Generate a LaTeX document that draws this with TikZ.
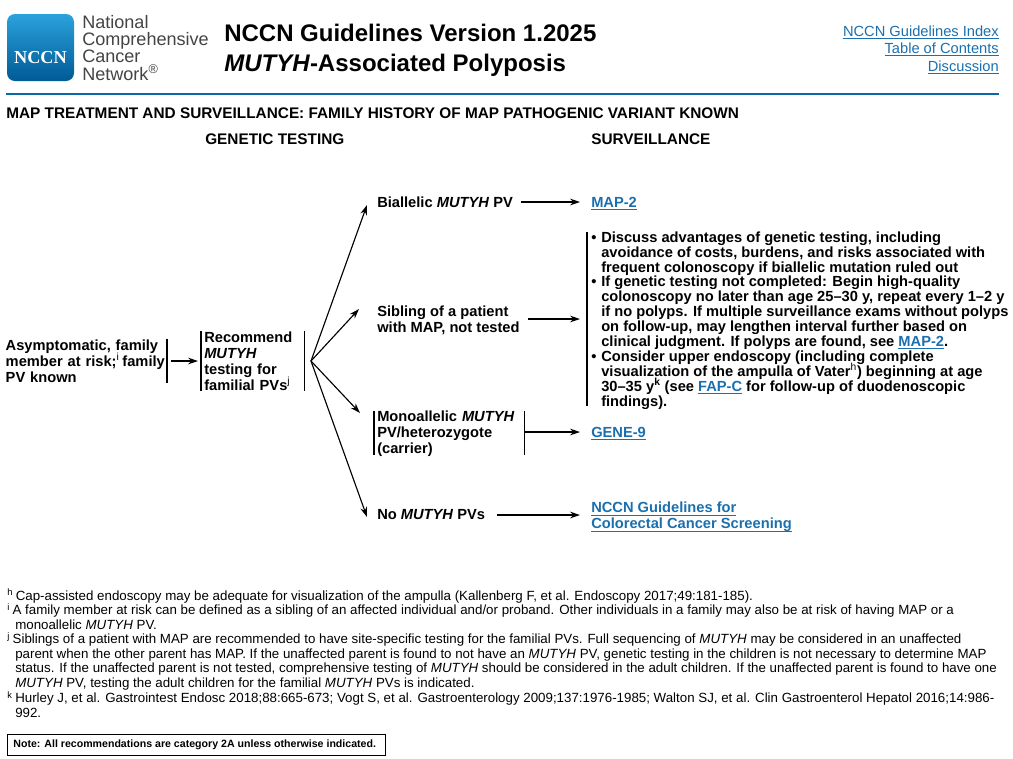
\documentclass[tikz,border=0pt]{standalone}
\usepackage{fontspec}
\setmainfont{Liberation Sans}
\newfontfamily\logoserif{Liberation Serif}
\usetikzlibrary{arrows.meta,positioning}
\lineskiplimit=-20pt

\definecolor{nccnblue}{HTML}{0B68A8}
\definecolor{linkblue}{HTML}{1A6FAE}
\definecolor{logotop}{HTML}{2BA2DC}
\definecolor{logobot}{HTML}{005A96}
\definecolor{logogray}{HTML}{444444}

\newcommand{\lnk}[1]{{\color{linkblue}\underline{\raisebox{0pt}[\height][0pt]{#1}}}}
\newcommand{\bul}{\llap{\textbullet\hspace{3.6pt}}}
\newcommand{\supr}[1]{\textsuperscript{\normalfont #1}}

\tikzset{
	bodytext/.style={font=\bfseries\fontsize{11}{12}\selectfont, inner sep=0pt, align=left},
	headtext/.style={font=\bfseries\fontsize{11.52}{12}\selectfont, inner sep=0pt, anchor=base west},
	listtext/.style={font=\bfseries\fontsize{11}{11.2}\selectfont, inner sep=0pt, align=left, anchor=base west},
	foot/.style={font=\fontsize{9.99}{10.9}\selectfont, inner sep=0pt, align=left, anchor=base west},
	barline/.style={line width=0.85pt},
	arr/.style={-{Stealth[length=7.5pt,width=5pt]}, line width=0.85pt},
}

\begin{document}
\begin{tikzpicture}[x=0.75pt, y=-0.75pt]
	\useasboundingbox (0,0) rectangle (1013,758);

	% === logo and title ===
	\shade[top color=logotop, bottom color=logobot, rounded corners=6pt] (7,14) rectangle (74,81);
	\node[font=\logoserif\bfseries\fontsize{13.7}{13}\selectfont, text=white, inner sep=0pt] (logomark) at (40.5,58) {NCCN};
	\node[font=\fontsize{13.55}{13}\selectfont, text=logogray, inner sep=0pt, align=left, anchor=base west] (logoname) at (82,80)
		{National\\Comprehensive\\Cancer\\Network\textsuperscript{\textregistered}};
	\node[font=\bfseries\fontsize{18}{22.4}\selectfont, inner sep=0pt, align=left, anchor=base west] (title) at (224,71.5)
		{NCCN Guidelines Version 1.2025\\\textit{MUTYH}-Associated Polyposis};
	\node[font=\fontsize{11}{13.1}\selectfont, inner sep=0pt, align=right, anchor=base east] (links) at (999,71)
		{\lnk{NCCN Guidelines Index}\\\lnk{Table of Contents}\\\lnk{Discussion}};
	\draw[nccnblue, line width=1.9pt] (6,94) -- (999,94);

	% === headings ===
	\node[headtext] (heading) at (6,118) {MAP TREATMENT AND SURVEILLANCE: FAMILY HISTORY OF MAP PATHOGENIC VARIANT KNOWN};
	\node[headtext] (genhead) at (205,144) {GENETIC TESTING};
	\node[headtext] (survhead) at (591,144) {SURVEILLANCE};

	% === left side ===
	\node[bodytext, anchor=east, text width=120.75pt, minimum height=33pt] (asym) at (167,361)
		{Asymptomatic, family\\member at risk;\supr{i}\kern-1.5pt{} family\\PV known};
	\node[bodytext, anchor=west, text width=72.75pt, inner xsep=2.25pt, minimum height=45pt] (rec) at (201,361)
		{Recommend\\\textit{MUTYH}\\testing for\\familial PVs\supr{j}};
	\coordinate (fan) at (311,361);
	\draw[barline] (asym.north east) -- (asym.south east);
	\draw[barline] (rec.north west) -- (rec.south west);
	\draw[barline] (rec.north east) -- (rec.south east);
	\draw[arr, shorten <=3pt, shorten >=2.25pt] (asym.east) -- (rec.west);

	% === branches ===
	\node[bodytext, anchor=west] (bia) at (377,202) {Biallelic \textit{MUTYH} PV};
	\node[bodytext, anchor=west] (sib) at (377,320) {Sibling of a patient\\with MAP, not tested};
	\node[bodytext, anchor=west, text width=108pt, inner xsep=2.25pt, minimum height=33.75pt] (mono) at (374,434)
		{Monoallelic \textit{MUTYH}\\PV/heterozygote\\(carrier)};
	\node[bodytext, anchor=west] (nopv) at (377,515) {No \textit{MUTYH} PVs};
	\draw[barline, shorten >=1.5pt] (mono.north west) -- (mono.south west);
	\draw[barline, shorten >=1.5pt] (mono.north east) -- (mono.south east);

	\draw[arr] (fan) -- ([shift={(-10,3)}]bia.west);
	\draw[arr] (fan) -- ([shift={(-18,-11)}]sib.west);
	\draw[arr] (fan) -- ([shift={(-14,-21)}]mono.west);
	\draw[arr] (fan) -- ([shift={(-10,2)}]nopv.west);

	% === targets ===
	\node[bodytext, anchor=west] (mapa) at (591,203.5) {\lnk{MAP-2}};
	\node[bodytext, anchor=west] (gene) at (591,434) {\lnk{GENE-9}};
	\node[bodytext, anchor=west] (guide) at (591,517) {\lnk{NCCN Guidelines for}\\\lnk{Colorectal Cancer Screening}};
	\coordinate (bartop) at (587,232);
	\coordinate (barbot) at (587,406);
	\coordinate (barmid) at (587,319);
	\draw[barline] (bartop) -- (barbot);

	\draw[arr, shorten <=6pt, shorten >=8.25pt] (bia.east) -- (bia.east -| mapa.west);
	\draw[arr, shorten <=6pt, shorten >=5.25pt] (sib.east |- barmid) -- (barmid);
	\draw[arr, shorten >=8.25pt] ([yshift=1.5pt]mono.east) -- ([yshift=1.5pt]mono.east -| gene.west);
	\draw[arr, shorten <=9pt, shorten >=8.25pt] (nopv.east) -- (nopv.east -| guide.west);

	% === surveillance list ===
	\node[listtext] (advise) at (601,272)
		{\bul Discuss advantages of genetic testing, including\\avoidance of costs, burdens, and risks associated with\\frequent colonoscopy if biallelic mutation ruled out};
	\node[listtext] (colono) at (601,346)
		{\bul If genetic testing not completed: Begin high-quality\\colonoscopy no later than age 25--30 y, repeat every 1--2 y\\if no polyps. If multiple surveillance exams without polyps\\on follow-up, may lengthen interval further based on\\clinical judgment. If polyps are found, see \lnk{MAP-2}.};
	\node[listtext] (upper) at (601,406)
		{\bul Consider upper endoscopy (including complete\\visualization of the ampulla of Vater\supr{h}) beginning at age\\30--35 y\textsuperscript{k} (see \lnk{FAP-C} for follow-up of duodenoscopic\\findings).};

	% === footnotes ===
	\node[foot] (footh) at (7,600) {\supr{h}\hspace{2pt}Cap-assisted endoscopy may be adequate for visualization of the ampulla (Kallenberg F, et al. Endoscopy 2017;49:181-185).};
	\node[foot] (footi) at (7,629.5) {\supr{i}\hspace{2pt}A family member at risk can be defined as a sibling of an affected individual and/or proband. Other individuals in a family may also be at risk of having MAP or a\\\hspace*{6pt}monoallelic \textit{MUTYH} PV.};
	\node[foot] (footj) at (7,687.5) {\supr{j}\hspace{2pt}Siblings of a patient with MAP are recommended to have site-specific testing for the familial PVs. Full sequencing of \textit{MUTYH} may be considered in an unaffected\\\hspace*{6pt}parent when the other parent has MAP. If the unaffected parent is found to not have an \textit{MUTYH} PV, genetic testing in the children is not necessary to determine MAP\\\hspace*{6pt}status. If the unaffected parent is not tested, comprehensive testing of \textit{MUTYH} should be considered in the adult children. If the unaffected parent is found to have one\\\hspace*{6pt}\textit{MUTYH} PV, testing the adult children for the familial \textit{MUTYH} PVs is indicated.};
	\node[foot] (footk) at (7,717.5) {\supr{k}\hspace{2pt}Hurley J, et al. Gastrointest Endosc 2018;88:665-673; Vogt S, et al. Gastroenterology 2009;137:1976-1985; Walton SJ, et al. Clin Gastroenterol Hepatol 2016;14:986-\\\hspace*{6pt}992.};

	\node[draw, line width=1.1pt, font=\bfseries\fontsize{7.95}{9}\selectfont, anchor=north west, minimum width=283.5pt, minimum height=15.75pt, inner sep=0pt] (note) at (7,733.5) {Note: All recommendations are category 2A unless otherwise indicated.\hspace*{3pt}};
\end{tikzpicture}
\end{document}
